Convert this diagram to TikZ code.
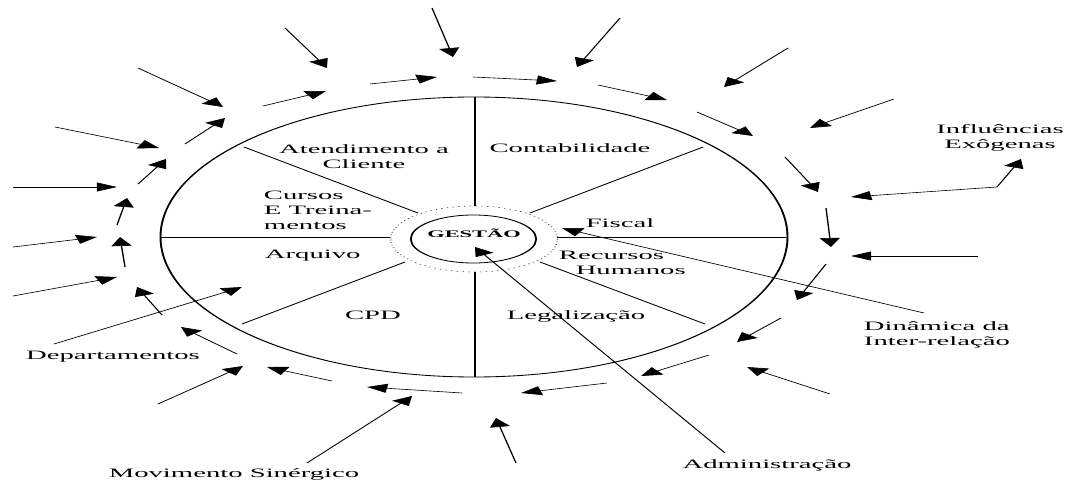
\documentclass[tikz,border=0pt]{standalone}
\usepackage{fontspec}
\setmainfont{Liberation Serif}
\usetikzlibrary{arrows.meta,shapes.geometric}
\begin{document}
\begin{tikzpicture}
\fill[white] (0,0) rectangle (1067pt,-484pt);
\useasboundingbox (0,0) rectangle (1067pt,-484pt);
\begin{scope}[transform canvas={xscale=2.24}, x=0.44643pt, y=-1pt, line width=0.85pt,
  arr/.style={-{Triangle[length=9pt,width=9pt]}, line width=0.6pt},
  lbl/.style={font=\fontsize{12.8}{15}\selectfont, inner sep=0pt},
  one/.style={lbl, text height=8.5pt, text depth=2.5pt}]
% main wheel
\draw (474,237) ellipse [x radius=313.5, y radius=140];
\draw[dotted, line width=0.6pt, black!75] (474,239) ellipse [x radius=83.5, y radius=33];
\node[draw, ellipse, line width=0.8pt, minimum width=56pt, minimum height=48pt, inner sep=0pt] (gestao) at (473.5,239) {};
\node[font=\bfseries\fontsize{10}{11}\selectfont, inner sep=0pt] (gtext) at (474,233) {GESTÃO};
% dividers
\draw (475,97) -- (475,206);
\draw (475,272) -- (475,377);
\draw[line width=0.7pt] (160,237) -- (390,237);
\draw[line width=0.7pt] (557,237) -- (787,237);
\draw[line width=0.7pt] (244,147) -- (418,213);
\draw[line width=0.7pt] (703,147) -- (530,213);
\draw[line width=0.7pt] (242,324) -- (405,262);
\draw[line width=0.7pt] (540,262) -- (705,324);
% sector labels
\node[lbl, align=center] (aten) at (364,157) {Atendimento a\\Cliente};
\node[one] (cont) at (570,149) {Contabilidade};
\node[lbl, align=left, anchor=west] (curs) at (263,210) {Cursos\\E Treina-\\mentos};
\node[one, anchor=west] (arq) at (264,255) {Arquivo};
\node[one] (fisc) at (620,224) {Fiscal};
\node[lbl, align=left, anchor=west] (rh) at (558,263) {Recursos\\\hspace*{7.5pt}Humanos};
\node[one] (cpd) at (373,316) {CPD};
\node[one] (leg) at (576,316) {Legalização};
% outer labels
\node[lbl, align=center] (infl) at (1000,138) {Influências\\Exôgenas};
\node[lbl, align=left, anchor=west] (din) at (863,335) {Dinâmica da\\Inter-relação};
\node[one] (dep) at (113,356) {Departamentos};
\node[one] (mov) at (234,474) {Movimento Sinérgico};
\node[one] (adm) at (767,465) {Administração};
% circulating arrows (clockwise ring)
\foreach \a/\b/\c/\d in {263/106/326/91, 370/84/437/77, 473/77/557/81, 598/85/667/100,
  697/112/753/136, 785/157/818/192, 826/208/831/247, 826/264/797/300,
  781/318/737/342, 709/355/641/376, 607/383/521/393, 462/393/367/387,
  332/381/267/367, 237/354/181/327, 162/315/137/287, 125/267/120/237,
  117/225/127/198, 138/184/166/159, 185/144/225/118}
  \draw[arr] (\a,\b) -- (\c,\d);
% incoming arrows (exogenous influences)
\foreach \a/\b/\c/\d in {432/8/453/57, 620/18/577/67, 788/48/724/87, 894/99/810/128,
  978/256/851/256, 830/394/747/367, 516/463/496/418, 307/463/412/396,
  158/404/243/366, 285/28/327/68, 138/68/223/107, 55/127/159/148,
  13/187/117/187, 13/247/97/237, 13/296/117/277}
  \draw[arr] (\a,\b) -- (\c,\d);
% label pointers
\coordinate (bend) at (997,187);
\coordinate (inflA) at (851,197);
\coordinate (inflB) at (1021,159);
\draw[arr] (bend) -- (inflA);
\draw[arr] (bend) -- (inflB);
\coordinate (depS) at (54,344);
\coordinate (depT) at (242,287);
\draw[arr] (depS) -- (depT);
\coordinate (dinS) at (924,313);
\coordinate (dinT) at (562,228);
\draw[arr] (dinS) -- (dinT);
\coordinate (admS) at (725,453);
\coordinate (admT) at (475,247);
\draw[arr] (admS) -- (admT);
\end{scope}
\end{tikzpicture}
\end{document}
